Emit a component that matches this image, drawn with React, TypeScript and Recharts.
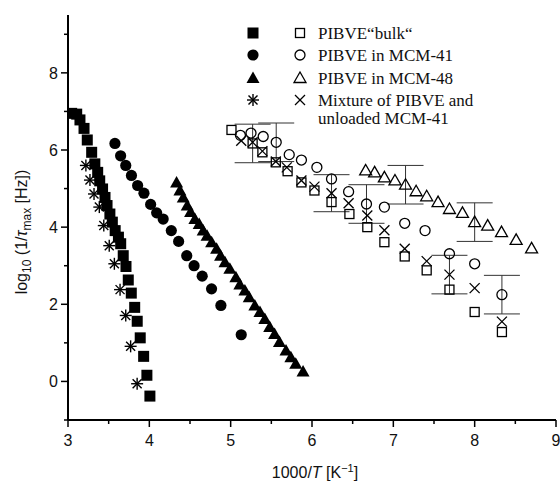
import React from "react";
import { ScatterChart, Scatter, XAxis, YAxis, ErrorBar } from "recharts";

type Pt = [number, number];

// high temperature branch (filled symbols)
const bulkHot: Pt[] = [
  [3.045, 6.95], [3.107, 6.93], [3.147, 6.78], [3.197, 6.56], [3.237, 6.26],
  [3.291, 5.94], [3.33, 5.64], [3.365, 5.42], [3.39, 5.2], [3.425, 4.99],
  [3.455, 4.77], [3.48, 4.56], [3.515, 4.34], [3.545, 4.13], [3.58, 3.91],
  [3.62, 3.74], [3.648, 3.57], [3.679, 3.26], [3.713, 2.98], [3.741, 2.63],
  [3.778, 2.29], [3.82, 1.92], [3.851, 1.56], [3.888, 1.13], [3.93, 0.65],
  [3.97, 0.16], [4.007, -0.38],
];
const mcm41Hot: Pt[] = [
  [3.577, 6.17], [3.647, 5.85], [3.71, 5.6], [3.78, 5.34], [3.856, 5.08],
  [3.934, 4.88], [4.016, 4.59], [4.09, 4.37], [4.17, 4.21], [4.27, 3.91],
  [4.36, 3.63], [4.46, 3.26], [4.55, 3.0], [4.65, 2.73], [4.765, 2.4],
  [4.88, 1.97], [5.13, 1.21],
];
const mcm48Hot: Pt[] = [
  [4.335, 5.16], [4.376, 4.95], [4.417, 4.77], [4.466, 4.56], [4.507, 4.39],
  [4.56, 4.21], [4.613, 4.08], [4.662, 3.91], [4.71, 3.78], [4.766, 3.61],
  [4.827, 3.44], [4.876, 3.26], [4.93, 3.09], [4.99, 2.92], [5.064, 2.7],
  [5.113, 2.51], [5.175, 2.36], [5.228, 2.18], [5.297, 1.97], [5.36, 1.8],
  [5.42, 1.62], [5.48, 1.41], [5.54, 1.23], [5.6, 1.02], [5.68, 0.8],
  [5.74, 0.63], [5.8, 0.46], [5.89, 0.26],
];
const mixHot: Pt[] = [
  [3.22, 5.6], [3.27, 5.22], [3.32, 4.86], [3.385, 4.52], [3.44, 4.04],
  [3.507, 3.52], [3.57, 3.05], [3.64, 2.38], [3.71, 1.71], [3.77, 0.91],
  [3.85, -0.06],
];

// low temperature branch (open symbols)
const bulkCold: Pt[] = [
  [5.01, 6.52], [5.27, 6.17], [5.39, 5.94], [5.555, 5.68], [5.7, 5.45],
  [5.87, 5.16], [6.03, 4.95], [6.24, 4.65], [6.46, 4.34], [6.68, 4.0],
  [6.89, 3.61], [7.14, 3.24], [7.41, 2.88], [7.69, 2.38], [8.0, 1.8],
  [8.335, 1.28],
];
const mcm41Cold: Pt[] = [
  [5.12, 6.38], [5.25, 6.44], [5.4, 6.35], [5.56, 6.2], [5.72, 5.88],
  [5.87, 5.74], [6.06, 5.55], [6.24, 5.25], [6.45, 4.92], [6.67, 4.6],
  [6.89, 4.52], [7.14, 4.1], [7.39, 3.91], [7.69, 3.31], [8.0, 3.05],
  [8.335, 2.25],
];
const mcm48Cold: Pt[] = [
  [6.66, 5.47], [6.77, 5.42], [6.89, 5.29], [7.02, 5.21], [7.15, 5.1],
  [7.28, 4.93], [7.41, 4.8], [7.55, 4.65], [7.69, 4.47], [7.85, 4.37],
  [8.0, 4.13], [8.16, 4.04], [8.33, 3.87], [8.51, 3.67], [8.7, 3.45],
];
const mixCold: Pt[] = [
  [5.13, 6.24], [5.27, 6.2], [5.39, 5.97], [5.555, 5.7], [5.69, 5.55],
  [5.87, 5.21], [6.03, 5.05], [6.24, 4.88], [6.45, 4.62], [6.68, 4.3],
  [6.89, 3.92], [7.14, 3.44], [7.41, 3.12], [7.69, 2.77], [8.0, 2.42],
  [8.335, 1.55],
];

// error bars: x, y, +/- error
const errPoints: [number, number, number][] = [
  [5.27, 6.17, 0.5], [5.56, 6.2, 0.5], [6.24, 4.88, 0.48], [6.67, 4.6, 0.5],
  [7.15, 5.1, 0.5], [7.69, 2.77, 0.5], [8.0, 4.13, 0.5], [8.335, 2.25, 0.5],
];

const xTicks = [3, 3.5, 4, 4.5, 5, 5.5, 6, 6.5, 7, 7.5, 8, 8.5, 9];
const yTicks = [-1, 0, 1, 2, 3, 4, 5, 6, 7, 8, 9];

const legendLabels = [
  "PIBVE\u201Cbulk\u201C",
  "PIBVE in MCM-41",
  "PIBVE in MCM-48",
  "Mixture of PIBVE and",
];

const rows = (pts: Pt[]) => pts.map(([x, y]) => ({ x, y }));

const SANS = "'Liberation Sans', Arial, sans-serif";
const SERIF = "'Liberation Serif', 'Times New Roman', serif";

const SqF = ({ cx, cy }: any) => (
  <rect x={cx - 5.5} y={cy - 5.5} width={11} height={11} fill="#000" />
);
const CirF = ({ cx, cy }: any) => <circle cx={cx} cy={cy} r={5.6} fill="#000" />;
const TriF = ({ cx, cy }: any) => (
  <polygon
    points={`${cx},${cy - 6.5} ${cx - 6.5},${cy + 5} ${cx + 6.5},${cy + 5}`}
    fill="#000"
  />
);
const Star = ({ cx, cy }: any) => (
  <g stroke="#000" strokeWidth={1.4}>
    <line x1={cx - 6} y1={cy} x2={cx + 6} y2={cy} />
    <line x1={cx} y1={cy - 6} x2={cx} y2={cy + 6} />
    <line x1={cx - 4.5} y1={cy - 4.5} x2={cx + 4.5} y2={cy + 4.5} />
    <line x1={cx - 4.5} y1={cy + 4.5} x2={cx + 4.5} y2={cy - 4.5} />
  </g>
);
const SqO = ({ cx, cy }: any) => (
  <rect x={cx - 4.5} y={cy - 4.5} width={9} height={9} fill="none" stroke="#000" strokeWidth={1.3} />
);
const CirO = ({ cx, cy }: any) => (
  <circle cx={cx} cy={cy} r={5} fill="none" stroke="#000" strokeWidth={1.3} />
);
const TriO = ({ cx, cy }: any) => (
  <polygon
    points={`${cx},${cy - 6} ${cx - 6},${cy + 4.5} ${cx + 6},${cy + 4.5}`}
    fill="none"
    stroke="#000"
    strokeWidth={1.3}
  />
);
const Cross = ({ cx, cy }: any) => (
  <g stroke="#000" strokeWidth={1.3}>
    <line x1={cx - 5} y1={cy - 5} x2={cx + 5} y2={cy + 5} />
    <line x1={cx - 5} y1={cy + 5} x2={cx + 5} y2={cy - 5} />
  </g>
);
const Nothing = () => <g />;

const XTick = ({ x, y, payload }: any) => {
  const v = payload.value;
  const major = Number.isInteger(v);
  return (
    <g>
      <line x1={x} x2={x} y1={y} y2={y + (major ? 7 : 4)} stroke="#000" strokeWidth={1.5} />
      {major && (
        <text x={x} y={y + 26} textAnchor="middle" fontSize={16} fontFamily={SANS} fill="#111">
          {v}
        </text>
      )}
    </g>
  );
};

const YTick = ({ x, y, payload }: any) => {
  const v = payload.value;
  const major = v % 2 === 0;
  return (
    <g>
      <line x1={x} x2={x - (major ? 7 : 4)} y1={y} y2={y} stroke="#000" strokeWidth={1.5} />
      {major && (
        <text x={x - 10} y={y + 6} textAnchor="end" fontSize={16} fontFamily={SANS} fill="#111">
          {v}
        </text>
      )}
    </g>
  );
};

const legendFilled = [SqF, CirF, TriF, Star];
const legendOpen = [SqO, CirO, TriO, Cross];
const legendY = [33, 55, 78, 100];

export default function App() {
  return (
    <div style={{ position: "absolute", left: 0, top: 0, width: 560, height: 484, background: "#fff" }}>
      <ScatterChart width={560} height={484} margin={{ top: 15, right: 4, bottom: 0, left: 0 }}>
        <XAxis
          type="number"
          dataKey="x"
          domain={[3, 9]}
          ticks={xTicks}
          height={64}
          allowDataOverflow
          axisLine={{ stroke: "#000", strokeWidth: 2 }}
          tickLine={false}
          tickSize={0}
          tickMargin={0}
          tick={(p: any) => <XTick {...p} />}
          interval={0}
        />
        <YAxis
          type="number"
          dataKey="y"
          domain={[-1, 9.5]}
          ticks={yTicks}
          width={68}
          allowDataOverflow
          axisLine={{ stroke: "#000", strokeWidth: 2 }}
          tickLine={false}
          tickSize={0}
          tickMargin={0}
          tick={(p: any) => <YTick {...p} />}
          interval={0}
        />
        <Scatter data={errPoints.map(([x, y, e]) => ({ x, y, e }))} shape={Nothing} isAnimationActive={false}>
          <ErrorBar dataKey="e" direction="y" width={18} stroke="#333" strokeWidth={1} />
        </Scatter>
        <Scatter data={rows(bulkHot)} shape={SqF} isAnimationActive={false} />
        <Scatter data={rows(mcm41Hot)} shape={CirF} isAnimationActive={false} />
        <Scatter data={rows(mcm48Hot)} shape={TriF} isAnimationActive={false} />
        <Scatter data={rows(mixHot)} shape={Star} isAnimationActive={false} />
        <Scatter data={rows(bulkCold)} shape={SqO} isAnimationActive={false} />
        <Scatter data={rows(mcm41Cold)} shape={CirO} isAnimationActive={false} />
        <Scatter data={rows(mcm48Cold)} shape={TriO} isAnimationActive={false} />
        <Scatter data={rows(mixCold)} shape={Cross} isAnimationActive={false} />
      </ScatterChart>
      <svg width={560} height={484} style={{ position: "absolute", left: 0, top: 0, pointerEvents: "none" }}>
        {legendLabels.map((label, i) => {
          const F = legendFilled[i];
          const O = legendOpen[i];
          return (
            <g key={label}>
              <F cx={253} cy={legendY[i]} />
              <O cx={300} cy={legendY[i]} />
              <text x={318} y={legendY[i] + 5.5} fontSize={17} fontFamily={SERIF} fill="#111">
                {label}
              </text>
            </g>
          );
        })}
        <text x={318} y={124} fontSize={17} fontFamily={SERIF} fill="#111">
          unloaded MCM-41
        </text>
        <text
          transform="translate(27,232) rotate(-90)"
          textAnchor="middle"
          fontSize={16}
          fontFamily={SANS}
          fill="#111"
        >
          log
          <tspan dy={4} fontSize={12}>10</tspan>
          <tspan dy={-4}> (1/</tspan>
          <tspan fontStyle="italic">τ</tspan>
          <tspan dy={4} fontSize={12}>max</tspan>
          <tspan dy={-4}> [Hz])</tspan>
        </text>
        <text x={315} y={478} textAnchor="middle" fontSize={16} fontFamily={SANS} fill="#111">
          1000/<tspan fontStyle="italic">T</tspan> [K
          <tspan dy={-6} fontSize={11}>−1</tspan>
          <tspan dy={6}>]</tspan>
        </text>
      </svg>
    </div>
  );
}
